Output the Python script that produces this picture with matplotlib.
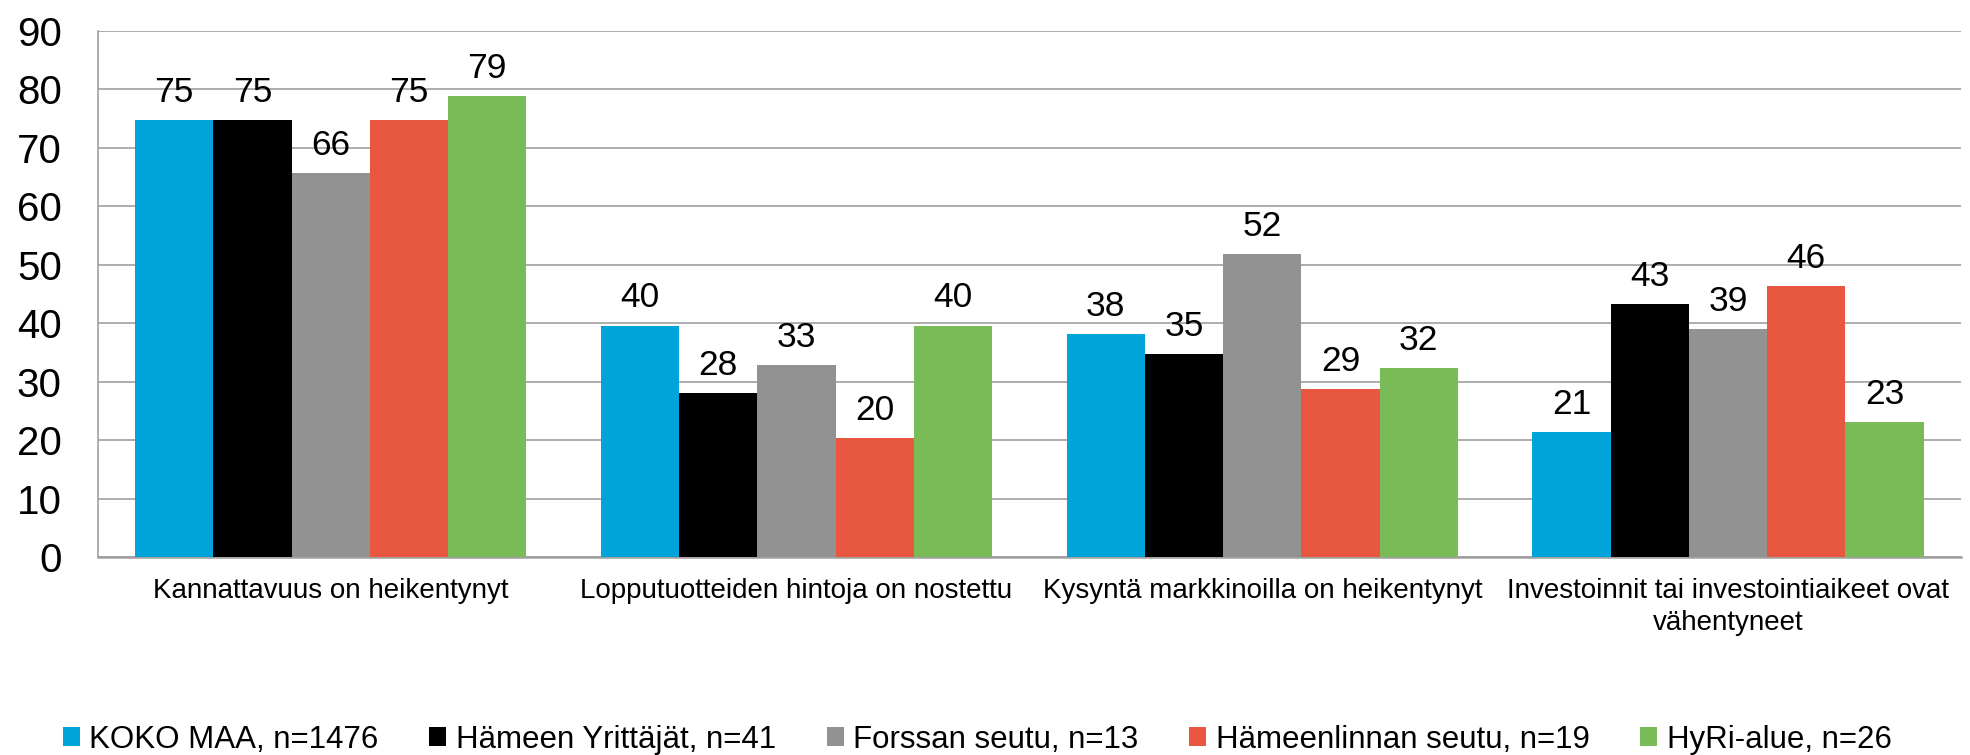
import matplotlib
matplotlib.use("Agg")
import matplotlib.pyplot as plt
import numpy as np

plt.rcParams['font.family'] = ['Liberation Sans', 'DejaVu Sans']

categories = [
    "Kannattavuus on heikentynyt",
    "Lopputuotteiden hintoja on nostettu",
    "Kysyntä markkinoilla on heikentynyt",
    "Investoinnit tai investointiaikeet ovat\nvähentyneet",
]
series_names = [
    "KOKO MAA, n=1476",
    "Hämeen Yrittäjät, n=41",
    "Forssan seutu, n=13",
    "Hämeenlinnan seutu, n=19",
    "HyRi-alue, n=26",
]
koko_maa = [74.7, 39.6, 38.1, 21.3]
hameen_yrittajat = [74.7, 28.0, 34.7, 43.3]
forssan_seutu = [65.7, 32.8, 51.9, 39.0]
hameenlinnan_seutu = [74.7, 20.3, 28.7, 46.4]
hyri_alue = [78.8, 39.6, 32.3, 23.1]
series_values = [koko_maa, hameen_yrittajat, forssan_seutu, hameenlinnan_seutu, hyri_alue]
colors = ["#00A4DA", "#000000", "#929292", "#E8573F", "#79BB56"]
y_ticks = list(range(0, 91, 10))

fig = plt.figure(figsize=(19.7, 7.55), dpi=100)
ax = fig.add_axes([0.0497, 0.2623, 0.9457, 0.6967])

x = np.arange(len(categories))
w = 0.168
n = len(series_values)
for i, (vals, name, c) in enumerate(zip(series_values, series_names, colors)):
    offs = (i - (n - 1) / 2) * w
    bars = ax.bar(x + offs, vals, width=w, color=c, label=name, zorder=3, linewidth=0)
    ax.bar_label(bars, fmt='%.0f', padding=8, fontsize=25.5, color='black')

ax.set_xlim(-0.5, 3.5)
ax.set_ylim(0, 90)
ax.set_yticks(y_ticks)
ax.set_yticklabels([str(t) for t in y_ticks], fontsize=29)
ax.set_xticks(x)
ax.set_xticklabels(categories, fontsize=20, linespacing=1.3)
ax.tick_params(axis='y', length=0, pad=26)
ax.tick_params(axis='x', length=0, pad=15)
ax.yaxis.grid(True, color='#A0A0A0', linewidth=1.2, zorder=0)
ax.set_axisbelow(True)
for s in ['top', 'right']:
    ax.spines[s].set_visible(False)
ax.spines['left'].set_color('#A0A0A0')
ax.spines['left'].set_linewidth(1.2)
ax.spines['bottom'].set_color('#A0A0A0')
ax.spines['bottom'].set_linewidth(1.8)

handles, labels = ax.get_legend_handles_labels()
fig.legend(handles, labels, loc='center', bbox_to_anchor=(0.496, 0.02), ncol=5,
           frameon=False, fontsize=22.5, handlelength=0.55, handleheight=0.55,
           handletextpad=0.3, columnspacing=1.62, borderpad=0, borderaxespad=0)

fig.savefig("out.png", dpi=100)
